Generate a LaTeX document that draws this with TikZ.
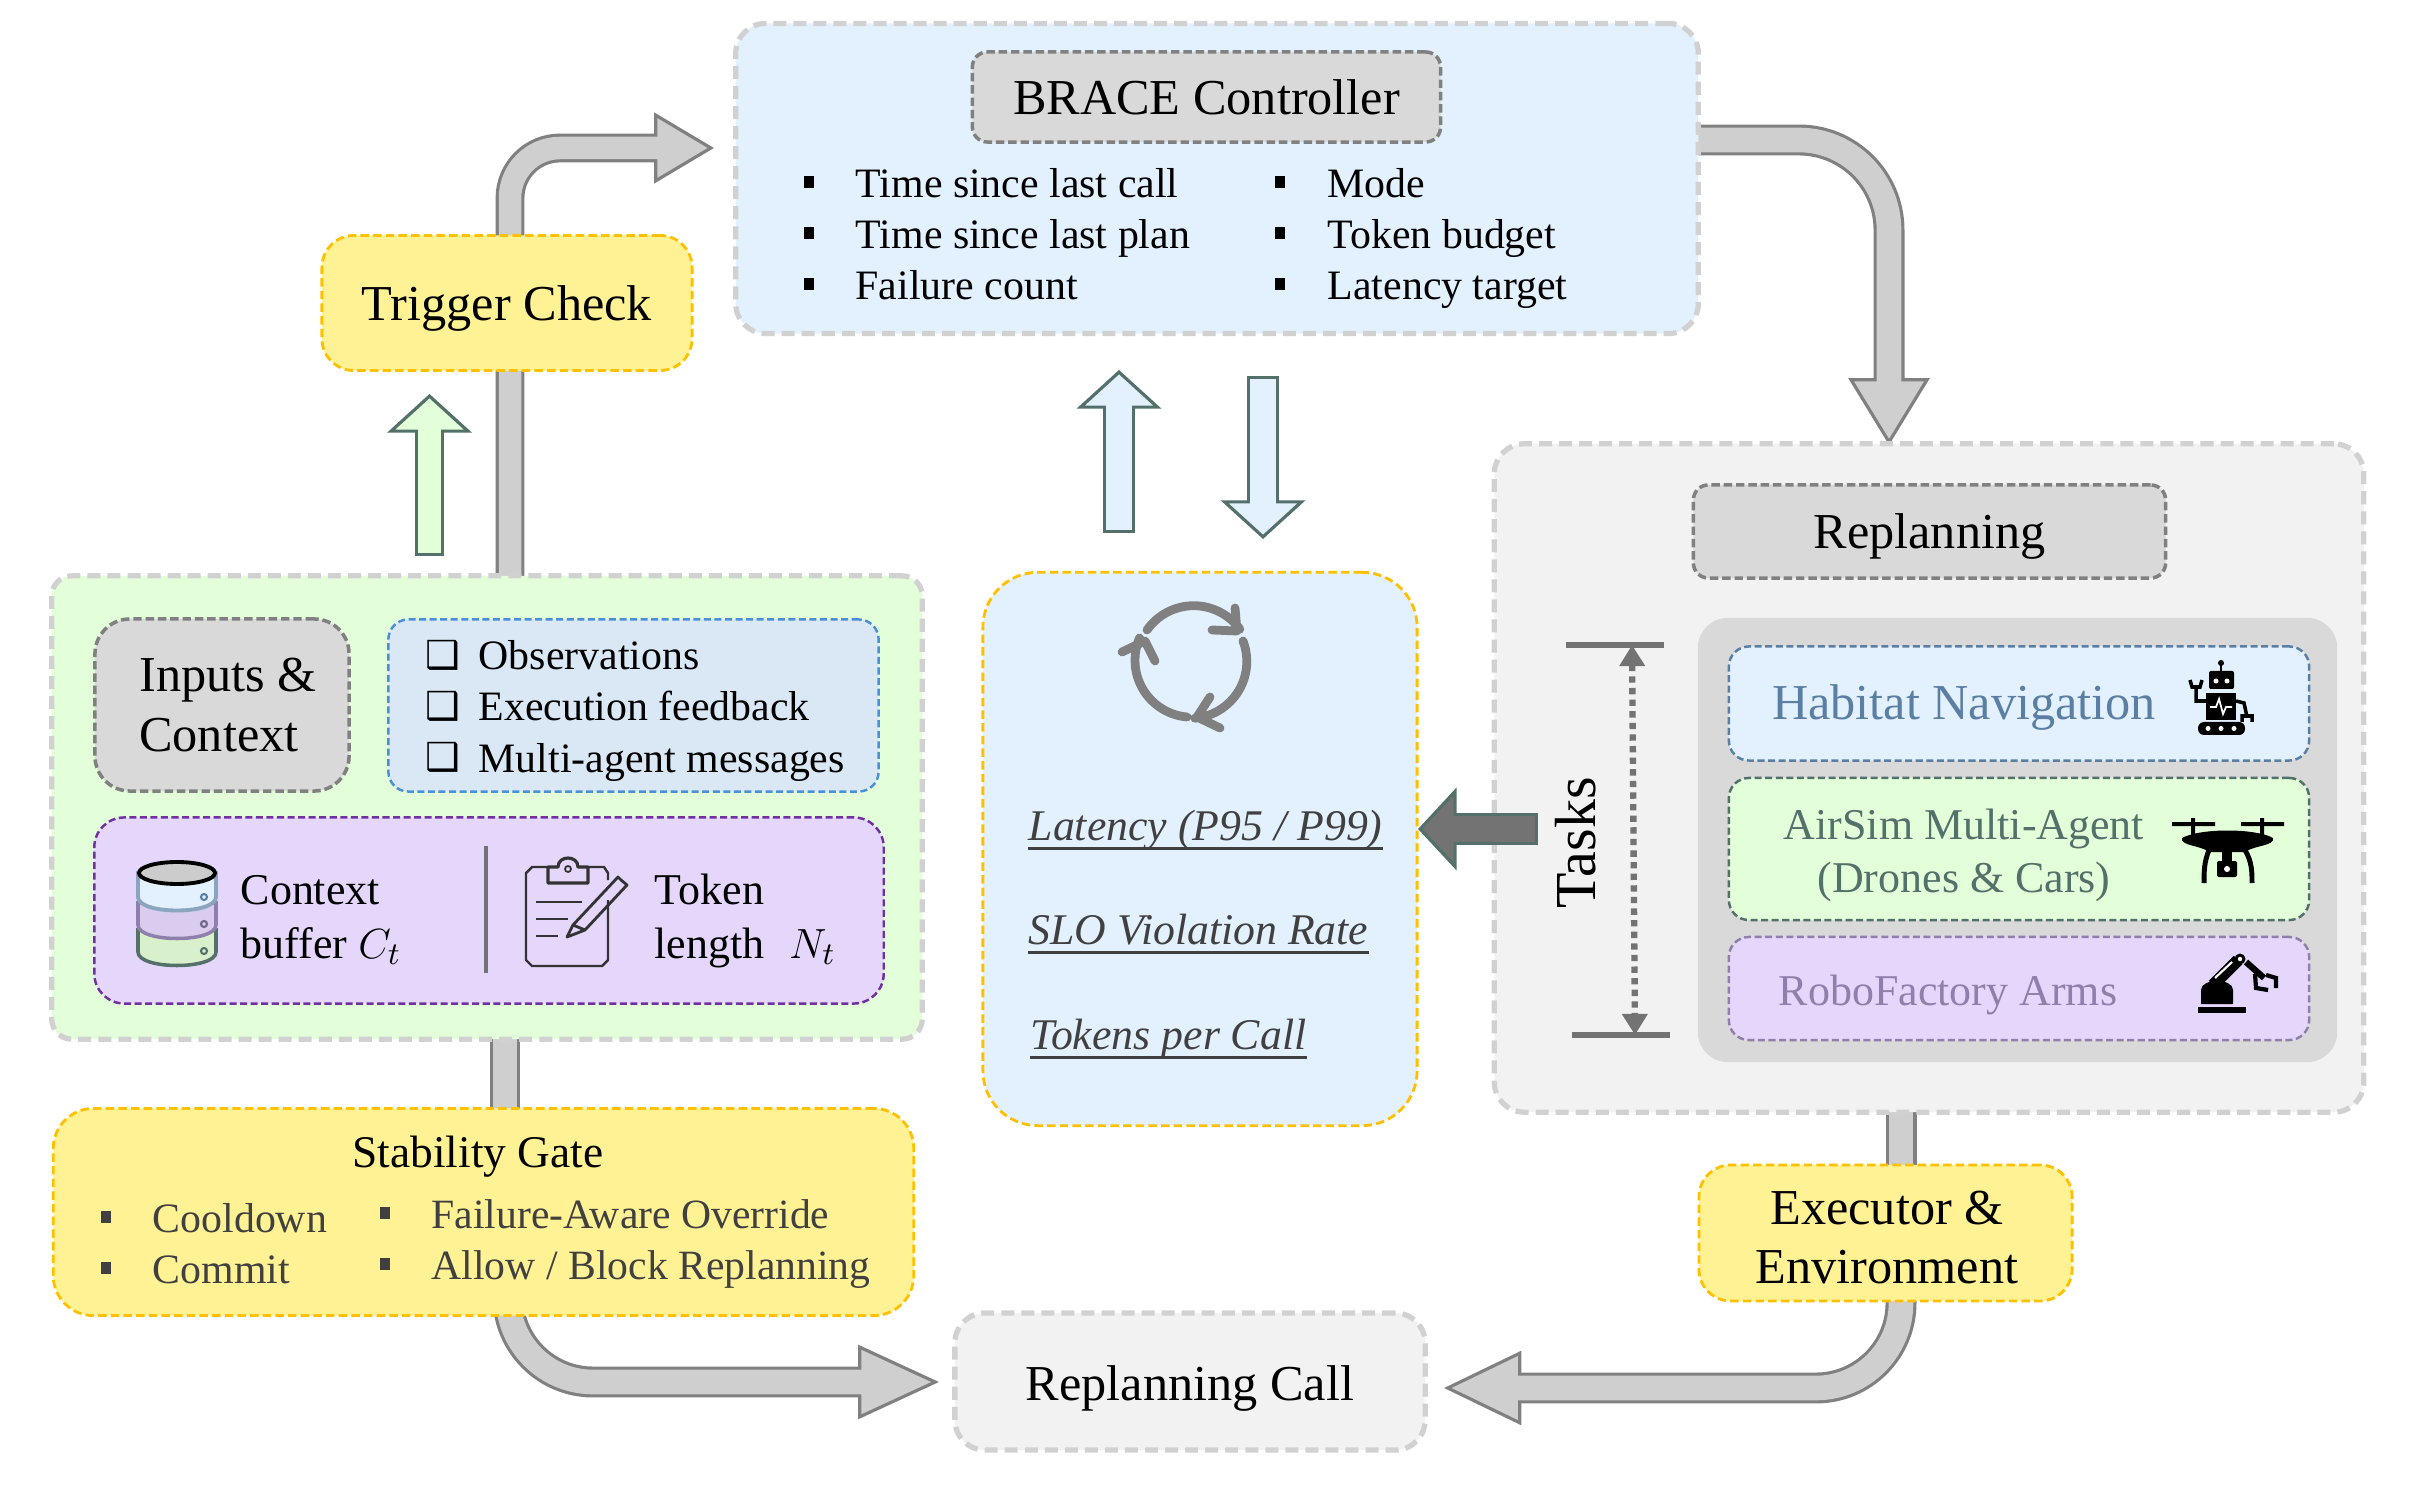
\documentclass[tikz,border=0pt]{standalone}
\usepackage{fontspec}
\usepackage{xcolor}
\usetikzlibrary{arrows.meta,backgrounds}
\setmainfont{Liberation Serif}
\newfontfamily\symbolfont{DejaVu Sans}
\colorlet{panelline}{black!18}
\colorlet{titleline}{black!50}
\colorlet{titlefill}{black!15}
\colorlet{shaftline}{black!50}
\colorlet{shaftfill}{black!19}
\colorlet{softtext}{black!75}
\definecolor{greenfill}{HTML}{E2FFD9}
\definecolor{bluefill}{HTML}{E3F1FF}
\definecolor{yellowfill}{HTML}{FFF294}
\definecolor{purplefill}{HTML}{E4D7FB}
\definecolor{obsfill}{HTML}{DAE8F5}
\definecolor{obsline}{HTML}{4A90D9}
\definecolor{gold}{HTML}{FFC000}
\definecolor{deeppurple}{HTML}{7030A0}
\definecolor{steel}{HTML}{5B7FA3}
\definecolor{moss}{HTML}{54706A}
\definecolor{mauve}{HTML}{8F80AB}
\definecolor{diskgreen}{HTML}{D9F0CC}
\definecolor{diskpurple}{HTML}{D9CCEE}
\tikzset{
  panel/.style={draw=panelline, line width=1.5pt, dash pattern=on 3.7pt off 2pt, inner sep=0pt, rounded corners=.3cm},
  titlebox/.style={draw=titleline, fill=titlefill, line width=1pt, dash pattern=on 2.4pt off 1.1pt, inner sep=0pt, rounded corners=.15cm, font=\fontsize{14.3}{16.8}\selectfont},
  goldbox/.style={draw=gold, line width=.8pt, dash pattern=on 2.4pt off 1.2pt, inner sep=0pt, rounded corners=.32cm, font=\fontsize{14.3}{16.8}\selectfont},
  taskbox/.style={line width=.7pt, dash pattern=on 2pt off 1pt, inner sep=0pt, rounded corners=.2cm, minimum width=5.8cm},
  itemtext/.style={anchor=base west, inner sep=0pt, font=\fontsize{11.9}{14}\selectfont},
  metrictext/.style={anchor=base west, inner sep=0pt, text=softtext, font=\fontsize{12.45}{15}\selectfont\itshape},
  metricrule/.style={draw=softtext, line width=.8pt},
  tasktext/.style={inner sep=0pt, align=center, font=\fontsize{12.5}{15.3}\selectfont},
  squaremark/.style={fill=#1, inner sep=0pt, minimum width=.105cm, minimum height=.115cm},
  checkmark/.style={anchor=base west, inner sep=0pt, font=\fontsize{11}{13}\selectfont\symbolfont},
  blockarrow/.style n args={5}{preaction={draw=#1, line width=#3+1.8pt, shorten <=0pt, shorten >=0pt, -{Triangle[length=#4, width=#5, fill=#2, line width=.9pt]}}, draw=#2, line width=#3, shorten <=.9pt, shorten >=#4-2pt},
  shaft/.style={draw=shaftline, double=shaftfill, double distance=7pt, line width=.9pt},
  cyclearc/.style={draw=black!50, line width=2.5pt, line cap=round, line join=round},
}
\begin{document}
\begin{tikzpicture}[x=.01cm, y=-.01cm]
	\useasboundingbox (0,0) rectangle (2413,1504);
	% big panels
	\node[panel, fill=bluefill, minimum width=9.62cm, minimum height=3.1cm] (brace) at (1217,178.5) {};
	\node[panel, fill=greenfill, minimum width=8.7cm, minimum height=4.63cm, rounded corners=.2cm] (inputs) at (487,807.5) {};
	\node[panel, fill=black!5, minimum width=8.69cm, minimum height=6.68cm] (replan) at (1929,778) {};
	\node[panel, fill=black!5, minimum width=4.7cm, minimum height=1.37cm, text height=11pt, text depth=0pt, font=\fontsize{14.3}{16.8}\selectfont] (call) at (1190,1381.5) {Replanning Call};
	\node[goldbox, fill=yellowfill, minimum width=3.7cm, minimum height=1.35cm, text depth=0pt] (trigger) at (507,303) {Trigger Check};
	\node[goldbox, fill=yellowfill, minimum width=8.6cm, minimum height=2.07cm, rounded corners=.4cm] (gate) at (483.5,1212) {};
	\node[goldbox, fill=bluefill, minimum width=4.34cm, minimum height=5.53cm, rounded corners=.55cm] (metrics) at (1200,849) {};
	\node[goldbox, fill=yellowfill, minimum width=3.73cm, minimum height=1.36cm] (executor) at (1885.5,1233) {};
	\node[inner sep=0pt, align=center, font=\fontsize{14.3}{16.8}\selectfont] (executortext) at (1887,1237.5) {Executor \&\\Environment};

	% controller
	\node[titlebox, minimum width=4.68cm, minimum height=.9cm] (bracetitle) at (1206.5,97) {BRACE Controller};
	\node[squaremark=black] (m1) at (809,182) {};
	\node[squaremark=black] (m2) at (809,233) {};
	\node[squaremark=black] (m3) at (809,284) {};
	\node[squaremark=black] (m4) at (1280,182) {};
	\node[squaremark=black] (m5) at (1280,233) {};
	\node[squaremark=black] (m6) at (1280,284) {};
	\node[itemtext] (lastcall) at (855,198) {Time since last call};
	\node[itemtext] (lastplan) at (855,249) {Time since last plan};
	\node[itemtext] (failcount) at (855,300) {Failure count};
	\node[itemtext] (mode) at (1327,198) {Mode};
	\node[itemtext] (budget) at (1327,249) {Token budget};
	\node[itemtext] (target) at (1327,300) {Latency target};

	% inputs and context
	\node[titlebox, minimum width=2.54cm, minimum height=1.72cm, rounded corners=.35cm, align=left] (inputstitle) at (222,705) {\hspace*{3.4pt}Inputs \&\\\hspace*{3.4pt}Context};
	\node[draw=obsline, fill=obsfill, line width=.7pt, dash pattern=on 2pt off 1pt, rounded corners=.2cm, minimum width=4.9cm, minimum height=1.72cm, inner sep=0pt] (obs) at (633.5,705.5) {};
	\node[checkmark] (c1) at (425,669) {❑};
	\node[checkmark] (c2) at (425,720) {❑};
	\node[checkmark] (c3) at (425,771) {❑};
	\node[itemtext] (observations) at (478,670) {Observations};
	\node[itemtext] (feedback) at (478,721) {Execution feedback};
	\node[itemtext] (messages) at (478,772) {Multi-agent messages};
	\node[draw=deeppurple, fill=purplefill, line width=.7pt, dash pattern=on 2pt off 1pt, rounded corners=.3cm, minimum width=7.89cm, minimum height=1.86cm, inner sep=0pt] (context) at (489,910.5) {};
	\draw[black!55, line width=1.4pt] (486,846) -- (486,973);
	% stacked disks
	\draw[draw=moss, fill=diskgreen, line width=1pt] (138,930) -- (138,952) .. controls (138,970) and (216,970) .. (216,952) -- (216,930) -- cycle;
	\draw[draw=mauve, fill=diskpurple, line width=1pt] (138,903) -- (138,925) .. controls (138,943) and (216,943) .. (216,925) -- (216,903) -- cycle;
	\draw[draw=steel!70!white, fill=bluefill, line width=1.1pt] (138,873) -- (138,897) .. controls (138,915) and (216,915) .. (216,897) -- (216,873) -- cycle;
	\draw[black, fill=black!20, line width=1.1pt] (177,873) ellipse [x radius=38, y radius=11];
	\draw[steel, line width=.6pt] (204,897) circle (3);
	\draw[mauve!80!black, line width=.6pt] (204,924) circle (3);
	\draw[moss, line width=.6pt] (204,951) circle (3);
	\node[anchor=base west, inner sep=0pt, align=left, font=\fontsize{12.5}{15.3}\selectfont] (buffer) at (240,958) {Context\\buffer $C_t$};
	% clipboard
	\draw[black!80, line width=.7pt, line join=round] (608,900) -- (608,960) -- (602,966) -- (532,966) -- (526,960) -- (526,873) -- (532,867) -- (548,867) (588,867) -- (604,867) -- (608,873) -- (608,880);
	\draw[black!80, line width=.9pt, line join=round] (548,883) -- (548,867) -- (558,867) .. controls (558,855) and (578,855) .. (578,867) -- (588,867) -- (588,883) -- cycle;
	\draw[black!80, line width=.5pt] (568,869) circle (3);
	\draw[black!80, line width=.8pt] (536,902) -- (582,902) (536,919) -- (568,919) (536,936) -- (558,936);
	\draw[black!80, line width=.8pt, line join=round] (567,937) -- (573,925) -- (618,877) -- (621,880) -- (627,885) -- (585,930) -- cycle (573,925) -- (585,930);
	\node[anchor=base west, inner sep=0pt, align=left, font=\fontsize{12.5}{15.3}\selectfont] (token) at (654,958) {Token\\length\hspace{7pt}$N_t$};

	% stability gate
	\node[inner sep=0pt, font=\fontsize{12.9}{15}\selectfont] (gatetitle) at (478,1156.5) {Stability Gate};
	\node[squaremark=softtext] (g1) at (106,1217) {};
	\node[squaremark=softtext] (g2) at (106,1268) {};
	\node[squaremark=softtext] (g3) at (385,1213) {};
	\node[squaremark=softtext] (g4) at (385,1264) {};
	\node[itemtext, text=softtext] (cooldown) at (152,1232) {Cooldown};
	\node[itemtext, text=softtext] (commit) at (152,1283) {Commit};
	\node[itemtext, text=softtext, font=\fontsize{11.85}{14}\selectfont] (override) at (431,1228) {Failure-Aware Override};
	\node[itemtext, text=softtext, font=\fontsize{11.85}{14}\selectfont] (block) at (431,1279) {Allow / Block Replanning};

	% metrics
	\draw[cyclearc] (1147,630) arc (215:324:57) (1235,608) -- (1237,631) -- (1212,630);
	\draw[cyclearc] (1243,641) arc (-21:85:57) (1210,697) -- (1197,717) -- (1220,728);
	\draw[cyclearc] (1187,717) arc (95:203:57) (1122,652) -- (1145,641) -- (1155,661);
	\node[metrictext] (latency) at (1028,840) {Latency (P95 / P99)};
	\node[metrictext] (violation) at (1028,944) {SLO Violation Rate};
	\node[metrictext] (tokens) at (1030,1049) {Tokens per Call};
	\draw[metricrule] ([yshift=-2.4pt]latency.base west) -- ([yshift=-2.4pt]latency.base east);
	\draw[metricrule] ([yshift=-2.4pt]violation.base west) -- ([yshift=-2.4pt]violation.base east);
	\draw[metricrule] ([yshift=-2.4pt]tokens.base west) -- ([yshift=-2.4pt]tokens.base east);

	% replanning
	\node[titlebox, minimum width=4.72cm, minimum height=.93cm, text depth=0pt] (replantitle) at (1929.5,531.5) {Replanning};
	\node[fill=black!15, rounded corners=.3cm, minimum width=6.39cm, minimum height=4.44cm, inner sep=0pt] (taskgroup) at (2017.5,840) {};
	\node[taskbox, draw=steel, fill=bluefill, minimum height=1.14cm] (habitat) at (2019,703.5) {};
	\node[taskbox, draw=moss, fill=greenfill, minimum height=1.42cm] (airsim) at (2019,849) {};
	\node[taskbox, draw=mauve, fill=purplefill, minimum height=1.03cm] (robofactory) at (2019,988.5) {};
	\node[tasktext, text=steel, font=\fontsize{14.3}{16}\selectfont] (habitattext) at (1964,707.5) {Habitat Navigation};
	\node[tasktext, text=moss] (airsimtext) at (1964,855.5) {AirSim Multi-Agent\\(Drones \& Cars)};
	\node[tasktext, text=mauve] (robotext) at (1948,995) {RoboFactory Arms};
	\node[inner sep=0pt, rotate=90, font=\fontsize{16.5}{18}\selectfont] (tasks) at (1576,843) {Tasks};
	\coordinate (tasktop) at (1632,645);
	\coordinate (taskbottom) at (1635,1035);
	\draw[black!55, line width=1.6pt] (1566,645) -- (1664,645) (1572,1035) -- (1670,1035);
	\draw[black!55, line width=1.8pt, dash pattern=on 1.8pt off 1.5pt, {Triangle[length=6pt,width=7pt]}-{Triangle[length=6pt,width=7pt]}] (tasktop) -- (taskbottom);

	% robot
	\fill (2221,663) circle (3);
	\draw[line width=.8pt] (2221,663) -- (2221,672);
	\fill[rounded corners=.02cm] (2209,671) rectangle (2234,689);
	\fill[white] (2216,681) circle (2.5) (2227,681) circle (2.5);
	\fill (2206,693) rectangle (2236,720);
	\draw[white, line width=.5pt] (2210,707) -- (2216,707) -- (2219,699) -- (2223,714) -- (2226,707) -- (2232,707);
	\fill[rounded corners=.06cm] (2198,722) rectangle (2245,735);
	\fill[white] (2208,728.5) circle (2.5) (2221,728.5) circle (2.5) (2234,728.5) circle (2.5);
	\draw[line width=1pt] (2206,701) -- (2196,701) -- (2196,686) (2190,680) -- (2192,687) -- (2200,687) -- (2202,680);
	\draw[line width=1pt] (2236,701) -- (2244,703) -- (2247,717) (2242,722) -- (2242,716) -- (2252,716) -- (2252,722);
	% drone
	\fill (2172,822) rectangle (2215,826) (2241,822) rectangle (2284,826);
	\fill (2191,818) rectangle (2195,835) (2260,818) rectangle (2264,835);
	\fill (2182,838) .. controls (2200,828) and (2255,828) .. (2273,838) .. controls (2275,846) and (2255,845) .. (2245,852) -- (2209,852) .. controls (2200,845) and (2180,846) .. (2182,838) -- cycle;
	\draw[line width=1.4pt] (2209,850) .. controls (2204,862) and (2204,872) .. (2204,883) (2245,850) .. controls (2252,862) and (2252,872) .. (2252,883);
	\fill (2222,850) rectangle (2232,862);
	\fill[rounded corners=.02cm] (2217,861) rectangle (2237,877);
	\fill[white] (2227,869) circle (3);
	% robot arm
	\fill (2198,1007) rectangle (2246,1013);
	\fill (2201,1004) -- (2201,990) .. controls (2201,978) and (2233,978) .. (2233,990) -- (2233,1004) -- cycle;
	\draw[line width=3.4pt] (2213,985) -- (2238,960);
	\draw[white, line width=.6pt] (2215,978) -- (2232,962);
	\fill (2240,959) circle (5.5);
	\fill[white] (2240,959) circle (2.2);
	\draw[line width=1.8pt] (2246,962) -- (2264,978);
	\draw[line width=1.2pt] (2255,974) -- (2256,988) -- (2268,990) (2266,975) -- (2276,978) -- (2276,988);

	% block arrows behind the boxes
	\coordinate (triggerfoot) at (510,585);
	\coordinate (triggertip) at (714,148);
	\coordinate (braceout) at (1685,140);
	\coordinate (replanin) at (1889,445);
	\coordinate (gatefoot) at (505,1030);
	\coordinate (gatein) at (505,1118);
	\coordinate (gateout) at (508,1306);
	\coordinate (calltip) at (939,1382);
	\coordinate (execfoot) at (1901,1103);
	\coordinate (execin) at (1901,1175);
	\coordinate (execout) at (1901,1291);
	\coordinate (execcalltip) at (1444,1388);
	\begin{scope}[on background layer]
		\draw[blockarrow={shaftline}{shaftfill}{6.4pt}{17pt}{20pt}, rounded corners=.5cm] (triggerfoot) |- (triggertip);
		\draw[blockarrow={shaftline}{shaftfill}{7pt}{19pt}{23pt}, rounded corners=.9cm] (braceout) -| (replanin);
		\draw[shaft] (gatefoot) -- (gatein);
		\draw[blockarrow={shaftline}{shaftfill}{7pt}{23pt}{21pt}, rounded corners=.85cm] (gateout) |- (calltip);
		\draw[shaft] (execfoot) -- (execin);
		\draw[blockarrow={shaftline}{shaftfill}{7pt}{22pt}{21pt}, rounded corners=.85cm] (execout) |- (execcalltip);
	\end{scope}
	% plain arrows
	\coordinate (inputfoot) at (429.5,556);
	\coordinate (inputtip) at (429.5,394);
	\coordinate (metricsfoot) at (1119,533);
	\coordinate (metricstip) at (1119,370);
	\coordinate (bracefoot) at (1263,376);
	\coordinate (bracetip) at (1263,539);
	\coordinate (taskfoot) at (1538,829);
	\coordinate (tasktip) at (1418,829);
	\draw[blockarrow={moss}{greenfill}{6.6pt}{11pt}{24pt}] (inputfoot) -- (inputtip);
	\draw[blockarrow={moss}{bluefill}{7.2pt}{11pt}{24pt}] (metricsfoot) -- (metricstip);
	\draw[blockarrow={moss}{bluefill}{7.2pt}{11pt}{24pt}] (bracefoot) -- (bracetip);
	\draw[blockarrow={moss}{black!55}{7.2pt}{11pt}{23.5pt}] (taskfoot) -- (tasktip);
\end{tikzpicture}
\end{document}
